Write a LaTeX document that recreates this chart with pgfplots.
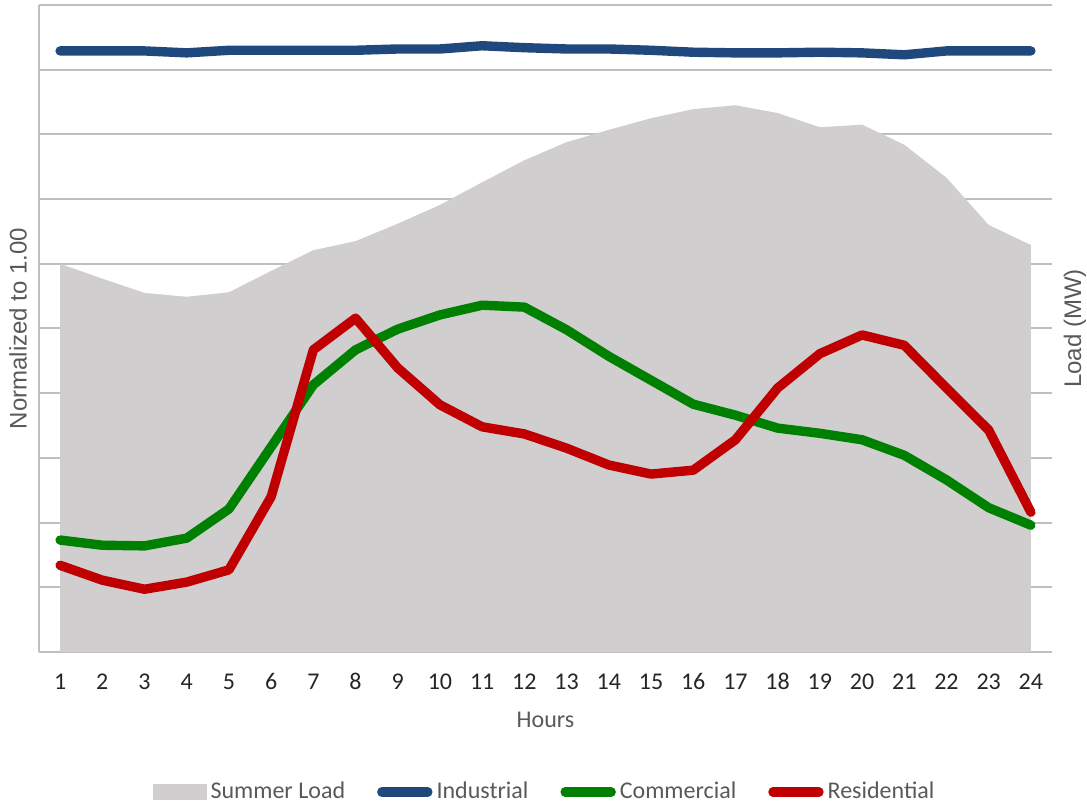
\documentclass[border=0pt]{standalone}
\usepackage{pgfplots}
\pgfplotsset{compat=1.18}
\usepackage{fontspec}
\setmainfont{Carlito}
\newfontfamily\arialfont{Liberation Sans}
\definecolor{areagray}{HTML}{D0CECE}
\definecolor{indblue}{HTML}{1F497D}
\definecolor{comgreen}{HTML}{008000}
\definecolor{resred}{HTML}{C00000}
\definecolor{gridgray}{HTML}{BFBFBF}
\definecolor{labgray}{HTML}{595959}
\definecolor{tickgray}{HTML}{262626}
\begin{document}
\begin{tikzpicture}
\path[use as bounding box] (-19.5pt,-77pt) rectangle (524pt,326pt);
\begin{axis}[
  name=ax,
  scale only axis,
  width=506.5pt, height=323.5pt,
  xmin=0.5, xmax=24.5,
  ymin=0, ymax=1,
  xtick={1,...,24},
  ytick={0,0.1,...,1.01},
  yticklabels={},
  ymajorgrids,
  major grid style={draw=gridgray, line width=1pt},
  axis x line*=bottom,
  axis y line*=left,
  axis line style={draw=gridgray, line width=1pt, -},
  major tick length=0pt,
  tick style={draw=none},
  /pgf/number format/assume math mode=true,
  xticklabel style={font=\fontsize{12}{14}\selectfont, text=tickgray, anchor=base, yshift=-19pt},
  legend style={at={(axis description cs:0.5,0)}, anchor=center, yshift=-70pt,
    draw=none, fill=none, font=\fontsize{12}{14}\selectfont\color{labgray},
    legend columns=4, /tikz/every even column/.append style={column sep=14pt},
    inner sep=0pt},
  legend cell align=left,
]
\addplot[fill=areagray, draw=none, area legend,
  legend image code/.code={\fill[areagray] (0pt,-4.2pt) rectangle (27pt,4.2pt);}]
  coordinates {
(1,0.600) (2,0.577) (3,0.555) (4,0.549) (5,0.556) (6,0.589) (7,0.621) (8,0.635)
(9,0.662) (10,0.691) (11,0.726) (12,0.760) (13,0.788) (14,0.807) (15,0.825) (16,0.839)
(17,0.845) (18,0.833) (19,0.811) (20,0.815) (21,0.784) (22,0.733) (23,0.660) (24,0.629)
} \closedcycle;
\addlegendentry{Summer Load}
\addplot[indblue, line width=4.7pt, line cap=round, line join=round,
  legend image code/.code={\draw[indblue, line width=4.7pt, line cap=round] (2pt,0pt) -- (25pt,0pt);}]
  coordinates {
(1,0.929) (2,0.929) (3,0.929) (4,0.926) (5,0.930) (6,0.930) (7,0.930) (8,0.930)
(9,0.932) (10,0.932) (11,0.937) (12,0.934) (13,0.932) (14,0.932) (15,0.930) (16,0.927)
(17,0.926) (18,0.926) (19,0.927) (20,0.926) (21,0.923) (22,0.929) (23,0.929) (24,0.929)
};
\addlegendentry{Industrial}
\addplot[comgreen, line width=4.7pt, line cap=round, line join=round,
  legend image code/.code={\draw[comgreen, line width=4.7pt, line cap=round] (2pt,0pt) -- (25pt,0pt);}]
  coordinates {
(1,0.173) (2,0.165) (3,0.164) (4,0.176) (5,0.221) (6,0.317) (7,0.413) (8,0.467)
(9,0.499) (10,0.521) (11,0.536) (12,0.533) (13,0.498) (14,0.457) (15,0.420) (16,0.383)
(17,0.366) (18,0.346) (19,0.338) (20,0.328) (21,0.304) (22,0.266) (23,0.223) (24,0.196)
};
\addlegendentry{Commercial}
\addplot[resred, line width=4.7pt, line cap=round, line join=round,
  legend image code/.code={\draw[resred, line width=4.7pt, line cap=round] (2pt,0pt) -- (25pt,0pt);}]
  coordinates {
(1,0.134) (2,0.111) (3,0.097) (4,0.108) (5,0.127) (6,0.240) (7,0.467) (8,0.516)
(9,0.439) (10,0.382) (11,0.348) (12,0.337) (13,0.315) (14,0.289) (15,0.275) (16,0.281)
(17,0.328) (18,0.408) (19,0.461) (20,0.490) (21,0.474) (22,0.408) (23,0.343) (24,0.216)
};
\addlegendentry{Residential}
\end{axis}
\node[rotate=90, font=\arialfont\fontsize{12}{14}\selectfont, text=labgray]
  at ([xshift=-10.5pt]ax.west) {Normalized to 1.00};
\node[rotate=90, font=\arialfont\fontsize{12}{14}\selectfont, text=labgray]
  at ([xshift=11.5pt]ax.east) {Load (MW)};
\node[font=\fontsize{12}{14}\selectfont, text=labgray]
  at ([yshift=-34pt]ax.south) {Hours};
\end{tikzpicture}
\end{document}
